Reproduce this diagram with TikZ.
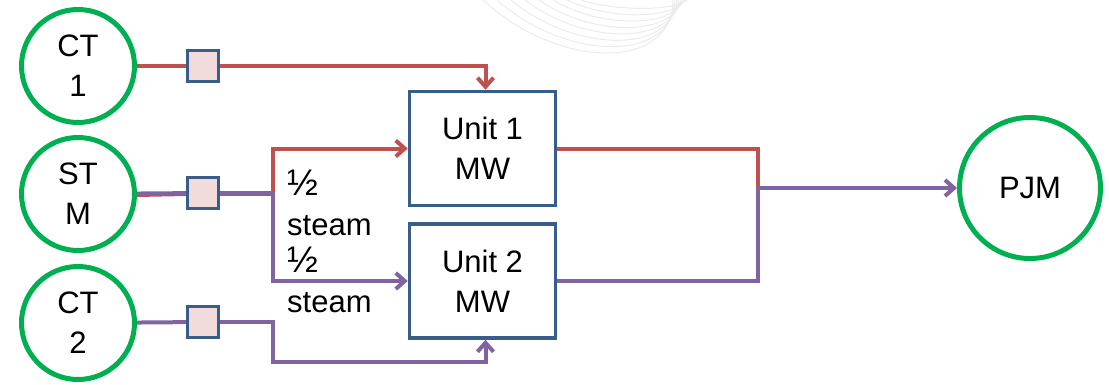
\documentclass[tikz,border=0pt]{standalone}
\usepackage{fontspec}
\setmainfont{Liberation Sans}
\definecolor{ringgreen}{RGB}{0, 176, 80}
\definecolor{flowred}{RGB}{192, 80, 77}
\definecolor{flowpurple}{RGB}{128, 100, 162}
\definecolor{boxblue}{RGB}{56, 93, 138}
\definecolor{meterpink}{RGB}{242, 220, 219}
\usetikzlibrary{arrows.meta, positioning, calc}
\newcommand{\halfmark}{{\fontsize{37}{40}\selectfont ½}}

\begin{document}
\begin{tikzpicture}[x=1pt, y=-1pt,
  bigfont/.style={font=\fontsize{31}{40}\selectfont},
  plant/.style={circle, draw=ringgreen, line width=5pt, minimum size=113pt,
    inner sep=0pt, align=center, bigfont},
  meter/.style={rectangle, draw=boxblue, fill=meterpink, line width=3pt,
    minimum size=31pt, inner sep=0pt},
  unitbox/.style={rectangle, draw=boxblue, line width=3.5pt, minimum width=146pt,
    minimum height=114pt, inner sep=0pt, align=center, bigfont},
  steamlabel/.style={inner sep=0pt, align=left, bigfont},
  redflow/.style={draw=flowred, line width=4pt},
  purpflow/.style={draw=flowpurple, line width=4pt},
  flowtip/.style={-{Straight Barb[length=9pt, width=16pt]}}]
  \useasboundingbox (0,0) rectangle (1109,384);
  % faint swoosh behind the top
  \foreach \i in {0,...,7}
    \draw[black!8, line width=1pt] ({483+14*\i},0) .. controls ({560+8*\i},{70.7-8.5*\i}) and (673,{70.7-8.5*\i}) .. ({673+2*\i},0);
  % sources and sink
  \node[plant] (ct1) at (78,66) {CT\\1};
  \node[plant] (stm) at (78,194) {ST\\M};
  \node[plant] (ct2) at (78,323) {CT\\2};
  \node[plant, minimum size=141pt] (pjm) at (1030,188) {PJM};
  % meters
  \node[meter] (m1) at (203,66) {};
  \node[meter] (m2) at (203,193) {};
  \node[meter] (m3) at (203,322) {};
  % units
  \node[unitbox] (u1) at (482.5,148.5) {Unit 1\\MW};
  \node[unitbox] (u2) at (482.5,281) {Unit 2\\MW};
  \coordinate (split) at (273,193);
  \coordinate (low) at (273,362);
  \coordinate (join) at (758,188);
  % CT 1
  \draw[redflow] (ct1) -- (m1);
  \draw[redflow, flowtip] (m1) -| ([xshift=3pt]u1.north);
  % ST M, split in two
  \draw[redflow] ([yshift=-1pt]stm.east) -- ([yshift=-1pt]m2.west);
  \draw[redflow, flowtip] ([yshift=-1pt]m2.east) -- ([yshift=-1pt]split) |- (u1);
  \draw[purpflow] (stm) -- (m2);
  \draw[purpflow, flowtip] (m2) -- (split) |- (u2);
  \node[steamlabel, anchor=base west] (half1) at (287,235) {\halfmark\\steam};
  \node[steamlabel, anchor=base west] (half2) at (287,312) {\halfmark\\steam};
  % CT 2
  \draw[purpflow] (ct2) -- (m3);
  \draw[purpflow, flowtip] (m3) -| (low) -| ([xshift=3pt]u2.south);
  % out to PJM
  \draw[redflow] (u1) -| (join);
  \draw[purpflow] (u2) -| (join);
  \draw[purpflow, flowtip] (join) -- (pjm);
\end{tikzpicture}
\end{document}
